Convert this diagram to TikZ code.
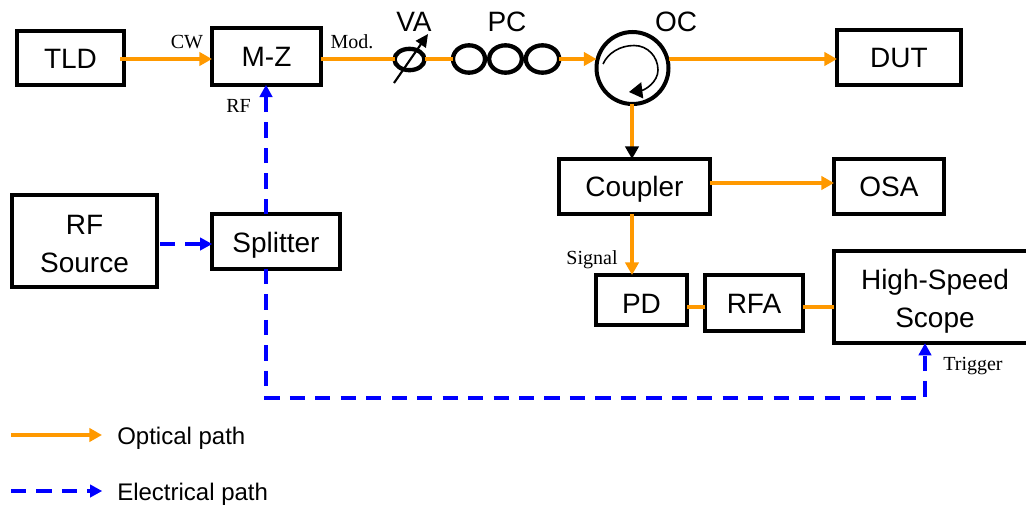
\documentclass[tikz,border=0pt]{standalone}
\usepackage{fontspec}
\setmainfont{Liberation Sans}
\newfontfamily\timesf{Liberation Serif}
\usetikzlibrary{arrows.meta,shapes.geometric,calc}
\definecolor{optc}{RGB}{255,153,0}
\newcommand{\twolines}[3]{\raisebox{#1}[0pt][0pt]{\begin{tabular}{@{}c@{}}#2\\#3\end{tabular}}}
\tikzset{
  x=0.75pt,y=-0.75pt,
  boxn/.style={draw=black,line width=3pt,rectangle,inner sep=0pt,outer sep=0pt,align=center,font=\fontsize{21}{28.5}\selectfont},
  one/.style={boxn,text height=15pt,text depth=0pt},
  ring/.style={draw=black,line width=3.25pt,ellipse,inner sep=0pt,outer sep=0pt},
  optline/.style={draw=optc,line width=2.5pt},
  optarrow/.style={optline,-{Triangle[length=9.5pt,width=10pt,fill=optc]}},
  blackhead/.style={optline,-{Triangle[length=9.5pt,width=10pt,fill=black,color=black]}},
  elec/.style={draw=blue,line width=3pt,dash pattern=on 11.4pt off 7.7pt,-{Triangle[length=9pt,width=10pt,fill=blue,line width=0pt]}},
  thinarrow/.style={draw=black,line width=1.6pt,-{Triangle[length=9.5pt,width=9pt,fill=black]}},
  small/.style={font=\timesf\fontsize{15}{18}\selectfont,inner sep=0pt},
  big/.style={font=\fontsize{21}{26}\selectfont,inner sep=0pt},
  legend/.style={font=\fontsize{18}{22}\selectfont,inner sep=0pt,anchor=west,text height=13pt,text depth=0pt}
}
\begin{document}
\begin{tikzpicture}
\useasboundingbox (0,0) rectangle (1026,507);
\coordinate (ya) at (0,59);
\coordinate (yb) at (0,244);
\coordinate (yc) at (0,183);
\coordinate (yd) at (0,307);
\coordinate (xa) at (266,0);
\coordinate (xb) at (632,0);
\coordinate (xc) at (925,0);
\coordinate (yl) at (0,398);
% boxes
\node[one,minimum width=80.25pt,minimum height=40.5pt] (tld) at (70.5,58) {TLD};
\node[one,minimum width=81.75pt,minimum height=42.75pt] (mz) at (266.5,56.5) {M-Z};
\node[boxn,text height=0pt,text depth=0pt,minimum width=108.75pt,minimum height=69pt] (rf) at (84.5,241) {\twolines{-8.5pt}{RF}{Source}};
\node[one,minimum width=96pt,minimum height=41.25pt] (split) at (276,241.5) {\raisebox{-0.9pt}{Splitter}};
\node[one,minimum width=113.25pt,minimum height=41.25pt] (coup) at (634.5,186.5) {Coupler};
\node[one,minimum width=82.5pt,minimum height=41.25pt] (osa) at (889,186.5) {OSA};
\node[one,minimum width=93pt,minimum height=41.25pt] (dut) at (899,57) {DUT};
\node[one,minimum width=68.25pt,minimum height=37.5pt] (pd) at (641.5,300) {\raisebox{-2.6pt}{PD}};
\node[one,minimum width=73.5pt,minimum height=42pt] (rfa) at (754,303) {RFA};
\node[boxn,text height=0pt,text depth=0pt,minimum width=151.5pt,minimum height=69.5pt] (scope) at (935,297) {\twolines{-7.8pt}{High-Speed}{Scope}};
% VA, PC, OC
\node[ring,minimum width=22.5pt,minimum height=16pt] (va) at (409.5,59.5) {};
\node[ring,minimum width=24pt,minimum height=20.5pt] (pc1) at (469,59) {};
\node[ring,minimum width=24.5pt,minimum height=20.5pt] (pc2) at (505.5,59) {};
\node[ring,minimum width=25pt,minimum height=20.5pt] (pc3) at (542.5,59) {};
\node[draw=black,line width=3pt,circle,inner sep=0pt,outer sep=0pt,minimum size=54pt] (oc) at (632.5,68) {};
\coordinate (vas) at (394,83);
\coordinate (vae) at (428,34);
\draw[thinarrow] (vas) -- (vae);
\coordinate (cs) at (603,64);
\coordinate (ct) at (634,45.5);
\coordinate (cr) at (658,70);
\coordinate (ce) at (629,92);
\draw[draw=black,line width=1.2pt,-{Triangle[length=10pt,width=12pt,fill=black]}]
  (cs) .. controls (608,53) and (620,45.5) .. (ct)
  .. controls (648,45.5) and (658,57) .. (cr)
  .. controls (658,82) and (645,90) .. (ce);
% optical connectors
\draw[optarrow,shorten <=-3pt] (tld.east |- ya) -- (mz.west |- ya);
\draw[optline] (mz.east |- ya) -- (va.west |- ya);
\draw[optline] (va.east |- ya) -- (pc1.west |- ya);
\draw[optarrow] (pc3.east |- ya) -- (oc.west |- ya);
\draw[optarrow] (oc.east |- ya) -- (dut.west |- ya);
\draw[blackhead] (xb |- oc.south) -- (xb |- coup.north);
\draw[optarrow] (coup.east |- yc) -- (osa.west |- yc);
\draw[optarrow] (xb |- coup.south) -- (xb |- pd.north);
\draw[optline] (pd.east |- yd) -- (rfa.west |- yd);
\draw[optline] (rfa.east |- yd) -- (scope.west |- yd);
% electrical connectors
\draw[elec] (rf.east |- yb) ++(3,0) -- (split.west |- yb);
\draw[elec] (xa |- split.north) -- (xa |- mz.south);
\draw[elec] (xa |- split.south) -- (xa |- yl) -- (xc |- yl) -- (xc |- scope.south);
% labels
\node[big] (lva) at (414,22) {VA};
\node[big] (lpc) at (507,22) {PC};
\node[big] (loc) at (676,22) {OC};
\node[small] (lcw) at (187,42) {CW};
\node[small] (lmod) at (352,42) {Mod.};
\node[small] (lrf) at (238.5,106) {RF};
\node[small] (lsig) at (592,260) {Signal};
\node[small] (ltrig) at (973,366) {Trigger};
% legend
\coordinate (la) at (11,435);
\coordinate (lb) at (102,435);
\coordinate (lc) at (11,491);
\coordinate (ld) at (102,491);
\draw[optarrow] (la) -- (lb);
\draw[elec] (lc) -- (ld);
\node[legend] (lo) at (117,435.5) {Optical path};
\node[legend] (le) at (117,491.5) {Electrical path};
\end{tikzpicture}
\end{document}
